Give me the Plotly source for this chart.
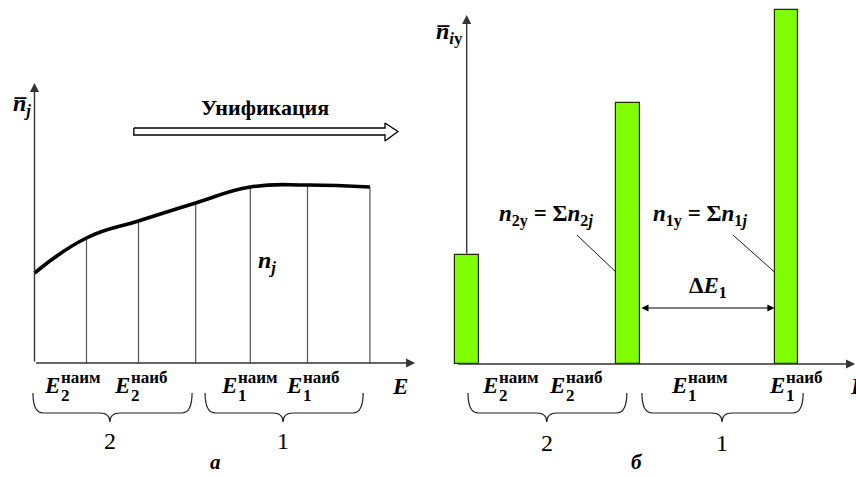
import plotly.graph_objects as go

# ---------------- data ----------------
# panel (a): distribution curve n_j over parameter E
E_left = [0.0, 1.0, 2.0, 3.1, 4.15, 5.25, 6.45]
n_left = [4.5, 6.25, 7.1, 8.0, 8.8, 8.9, 8.8]

# panel (б): unified sizes
E_right = [0.0, 3.1, 6.15]
n_right = [5.45, 13.05, 17.7]

# tick-like labels under the axes
label_sup = ["наим", "наиб", "наим", "наиб"]
label_sub = ["2", "2", "1", "1"]
left_label_E = [0.47, 1.82, 3.88, 5.13]
right_label_E = [0.58, 1.87, 4.22, 6.11]

# groups (braces) : (start, end, tip, group number)
left_groups = [(-0.03, 3.03, 1.45, "2"), (3.28, 6.32, 4.78, "1")]
right_groups = [(0.025, 3.08, 1.54, "2"), (3.37, 6.47, 4.91, "1")]

# ---------------- styles ----------------
FONT = "Liberation Serif, Times New Roman, serif"
BAR_COLOR = "#80FF00"
BAR_EDGE = "#1f2d00"
AXIS_COLOR = "#333333"
BAR_WIDTH = 0.46

fig = go.Figure()

# ---- panel (a) ----
vx, vy = [], []
for e, n in zip(E_left[1:], n_left[1:]):
    vx += [e, e, None]
    vy += [0, n, None]
fig.add_trace(go.Scatter(x=vx, y=vy, mode="lines", xaxis="x", yaxis="y",
                         line=dict(color="#555555", width=1.2), hoverinfo="skip"))
fig.add_trace(go.Scatter(x=E_left, y=n_left, mode="lines", xaxis="x", yaxis="y",
                         line=dict(color="black", width=3.6, shape="spline", smoothing=1.3),
                         hoverinfo="skip"))

# hollow "Унификация" arrow
ax0, ax1, ax2 = 1.91, 6.74, 6.99
sy0, sy1, hy0, hy1, ty = 11.4, 11.75, 11.1, 12.0, 11.575
fig.add_trace(go.Scatter(x=[ax0, ax1, ax1, ax2, ax1, ax1, ax0, ax0],
                         y=[sy1, sy1, hy1, ty, hy0, sy0, sy0, sy1],
                         mode="lines", fill="toself", fillcolor="white",
                         line=dict(color="black", width=1.3), xaxis="x", yaxis="y",
                         hoverinfo="skip"))

# ---- panel (б) ----
fig.add_trace(go.Bar(x=E_right, y=n_right, width=BAR_WIDTH, xaxis="x2", yaxis="y2",
                     marker=dict(color=BAR_COLOR, line=dict(color=BAR_EDGE, width=1.2)),
                     hoverinfo="skip"))

# leader lines from formulas to bars
leader_x = [2.12, E_right[1] - BAR_WIDTH / 2, None, 5.12, E_right[2] - BAR_WIDTH / 2]
leader_y = [6.45, 4.6, None, 6.45, 4.6]
fig.add_trace(go.Scatter(x=leader_x, y=leader_y, mode="lines", xaxis="x2", yaxis="y2",
                         line=dict(color="black", width=0.9), hoverinfo="skip"))

fig.update_layout(
    width=856, height=477, margin=dict(l=0, r=0, t=0, b=0),
    paper_bgcolor="white", plot_bgcolor="white", showlegend=False,
    xaxis=dict(domain=[0, 0.5], range=[-0.6635, 7.5673], visible=False, fixedrange=True),
    yaxis=dict(domain=[0, 1], range=[-5.7, 18.15], visible=False, fixedrange=True),
    xaxis2=dict(domain=[0.5, 1], range=[-0.744, 7.487], visible=False, anchor="y2", fixedrange=True),
    yaxis2=dict(domain=[0, 1], range=[-5.65, 18.2], visible=False, anchor="x2", fixedrange=True),
    bargap=0,
)


def arrow(xr, yr, x0, y0, x1, y1, both=False, color=AXIS_COLOR, width=1.4):
    kw = dict(x=x1, y=y1, ax=x0, ay=y0, xref=xr, yref=yr, axref=xr, ayref=yr,
              text="", showarrow=True, arrowhead=2, arrowsize=1.3, arrowwidth=width,
              arrowcolor=color, standoff=0, startstandoff=0)
    if both:
        kw.update(arrowside="end+start", startarrowhead=2, startarrowsize=1.3)
    fig.add_annotation(**kw)


def text(xr, yr, x, y, s, size, xanchor="center", yanchor="middle", xshift=0, yshift=0):
    fig.add_annotation(x=x, y=y, xref=xr, yref=yr, text=s, showarrow=False,
                       font=dict(family=FONT, size=size, color="black"),
                       xanchor=xanchor, yanchor=yanchor, xshift=xshift, yshift=yshift)


def brace(xr, yr, x1, x2, xm, ytop, ymid, ytip, r):
    path = (f"M {x1},{ytop} Q {x1},{ymid} {x1 + r},{ymid} L {xm - r},{ymid} "
            f"Q {xm},{ymid} {xm},{ytip} Q {xm},{ymid} {xm + r},{ymid} "
            f"L {x2 - r},{ymid} Q {x2},{ymid} {x2},{ytop}")
    fig.add_shape(type="path", path=path, xref=xr, yref=yr,
                  line=dict(color="#222222", width=1.2))


# axes (a)
arrow("x", "y", 0, 0, 0, 14.0)
arrow("x", "y", 0, 0, 7.32, 0)
# axes (б)
arrow("x2", "y2", 0, n_right[0], 0, 17.45)
arrow("x2", "y2", -0.2, 0, 7.47, 0)
# ΔE1 dimension arrow
arrow("x2", "y2", E_right[1] + BAR_WIDTH / 2, 2.8, E_right[2] - BAR_WIDTH / 2, 2.8,
      both=True, color="black", width=1.1)

# axis labels (n with overline)
text("x", "y", -0.45, 12.9, "<b><i>n\u0305</i></b><sub><b><i>j</i></b></sub>", 24, xanchor="left")
text("x", "y", 7.03, -1.15, "<b><i>E</i></b>", 23)

text("x2", "y2", -0.62, 16.55, "<b><i>n\u0305</i></b><sub><b><i>i</i>у</b></sub>", 24, xanchor="left")
text("x2", "y2", 7.33, -1.1, "<b><i>E</i></b>", 23, xanchor="left")

# inner texts
text("x", "y", 4.43, 12.8, "<b>Унификация</b>", 22)
text("x", "y", 4.47, 5.05, "<b><i>n</i></b><sub><b><i>j</i></b></sub>", 24)
text("x2", "y2", 1.525, 7.45,
     "<b><i>n</i></b><sub><b>2у</b></sub><b> = Σ<i>n</i></b><sub><b>2<i>j</i></b></sub>", 23)
text("x2", "y2", 4.49, 7.45,
     "<b><i>n</i></b><sub><b>1у</b></sub><b> = Σ<i>n</i></b><sub><b>1<i>j</i></b></sub>", 23)
text("x2", "y2", 4.64, 3.85, "<b>Δ<i>E</i></b><sub><b>1</b></sub>", 23)

# E labels
for xr, yr, bases, ylev in [("x", "y", left_label_E, -1.1), ("x2", "y2", right_label_E, -1.05)]:
    for b, sp, sb in zip(bases, label_sup, label_sub):
        text(xr, yr, b, ylev, "<b><i>E</i></b>", 23, xanchor="right", xshift=3)
        text(xr, yr, b, ylev, f"<b>{sp}</b>", 17, xanchor="left", yshift=8)
        text(xr, yr, b, ylev, f"<b>{sb}</b>", 17, xanchor="left", yshift=-10)

# braces and group numbers
for xr, yr, groups, ys in [("x", "y", left_groups, (-1.5, -2.5, -2.95, -3.9)),
                           ("x2", "y2", right_groups, (-1.45, -2.45, -2.9, -3.95))]:
    for x1, x2, xm, g in groups:
        brace(xr, yr, x1, x2, xm, ys[0], ys[1], ys[2], 0.2)
        text(xr, yr, xm, ys[3], g, 24)

# panel letters
text("x", "y", 3.49, -4.95, "<b><i>а</i></b>", 21)
text("x2", "y2", 3.28, -4.9, "<b><i>б</i></b>", 21)

fig.write_html("out.html")
